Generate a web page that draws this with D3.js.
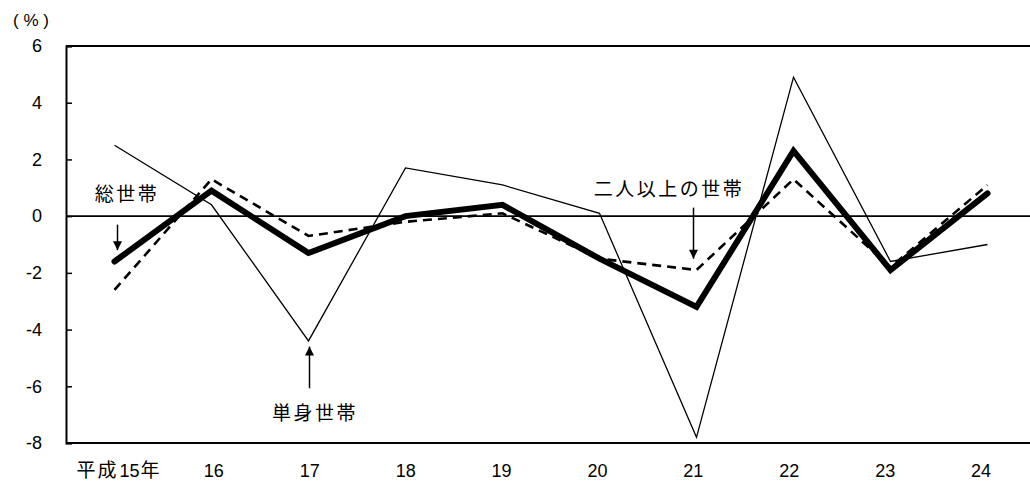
<!DOCTYPE html>
<html>
<head>
<meta charset="utf-8">
<script src="https://cdn.jsdelivr.net/npm/d3@7"></script>
<style>
  html, body { margin: 0; padding: 0; background: #fff; }
  svg { display: block; }
  text { font-family: "Liberation Sans", Arial, "Noto Sans CJK JP", sans-serif; fill: #000; }
  .jp { font-family: "Noto Sans CJK JP", "Liberation Sans", sans-serif; }
</style>
</head>
<body>
<svg id="chart" width="1030" height="486"></svg>
<script>
// 年次（平成）
const years = ["平成15年", "16", "17", "18", "19", "20", "21", "22", "23", "24"];
// 前年比（%）
const totalHouseholds = [-1.6, 0.9, -1.3, 0.0, 0.4, -1.5, -3.2, 2.3, -1.9, 0.8];   // 総世帯
const multiHouseholds = [-2.6, 1.3, -0.7, -0.2, 0.1, -1.5, -1.9, 1.3, -1.8, 1.1];  // 二人以上の世帯
const singleHouseholds = [2.5, 0.4, -4.4, 1.7, 1.1, 0.1, -7.8, 4.9, -1.6, -1.0];   // 単身世帯
const yTicks = [-8, -6, -4, -2, 0, 2, 4, 6];

const svg = d3.select("#chart");
const plotLeft = 66, plotRight = 1036, plotTop = 46, plotBottom = 443;

const x = d3.scaleBand().domain(years).range([plotLeft, plotRight]);
const xLabel = d3.scaleBand().domain(years).range([70, 1029]);
const y = d3.scaleLinear().domain([-8, 6]).range([plotBottom, plotTop]);
const cx = d => x(d) + x.bandwidth() / 2;

// 枠（上辺）
svg.append("line")
  .attr("x1", plotLeft).attr("x2", plotRight)
  .attr("y1", plotTop).attr("y2", plotTop)
  .attr("stroke", "#000").attr("stroke-width", 2);

// 縦軸
const yAxis = svg.append("g")
  .attr("transform", `translate(${plotLeft},0)`)
  .call(d3.axisLeft(y).tickValues(yTicks).tickSize(-6).tickPadding(24).tickFormat(d => String(d)));
yAxis.select(".domain").attr("stroke", "#000").attr("stroke-width", 2);
yAxis.selectAll(".tick line").attr("stroke", "#000").attr("stroke-width", 1.5);
yAxis.selectAll(".tick text").attr("font-size", 18)
  .attr("font-family", "'Liberation Sans', Arial, sans-serif");

// 横軸（下辺）
const xAxis = svg.append("g")
  .attr("transform", `translate(0,${plotBottom})`)
  .call(d3.axisBottom(xLabel).tickSize(0).tickPadding(21));
xAxis.select(".domain").attr("stroke", "#000").attr("stroke-width", 2)
  .attr("d", `M${plotLeft},0H${plotRight}`);
xAxis.selectAll(".tick text").attr("font-size", 18)
  .attr("font-family", "'Liberation Sans', Arial, 'Noto Sans CJK JP', sans-serif");

// 先頭の年次ラベルは元号部分を漢字の字形で組む
xAxis.selectAll(".tick text").filter(d => d === years[0]).each(function (d) {
  const t = d3.select(this).text(null);
  const m = d.match(/^(\D+)(\d+)(\D+)$/);
  t.append("tspan").attr("class", "jp").attr("font-size", 19).attr("letter-spacing", "2px").text(m[1]);
  t.append("tspan").attr("dx", 1).text(m[2]);
  t.append("tspan").attr("class", "jp").attr("font-size", 19).attr("dx", 1).text(m[3]);
});

// 単位
svg.append("text")
  .attr("x", 31).attr("y", 26)
  .attr("text-anchor", "middle")
  .attr("font-size", 17)
  .attr("xml:space", "preserve")
  .text("( % )");

// ゼロ線
svg.append("line")
  .attr("x1", plotLeft).attr("x2", plotRight)
  .attr("y1", y(0)).attr("y2", y(0))
  .attr("stroke", "#000").attr("stroke-width", 1.6);

const line = d3.line().x((d, i) => cx(years[i])).y(d => y(d));

// 単身世帯（細線）
svg.append("path").datum(singleHouseholds)
  .attr("d", line).attr("fill", "none")
  .attr("stroke", "#000").attr("stroke-width", 1.3)
  .attr("stroke-linejoin", "miter");

// 二人以上の世帯（破線）
svg.append("path").datum(multiHouseholds)
  .attr("d", line).attr("fill", "none")
  .attr("stroke", "#000").attr("stroke-width", 2.6)
  .attr("stroke-dasharray", "9,6")
  .attr("stroke-linejoin", "miter");

// 総世帯（太線）
svg.append("path").datum(totalHouseholds)
  .attr("d", line).attr("fill", "none")
  .attr("stroke", "#000").attr("stroke-width", 6)
  .attr("stroke-linejoin", "miter")
  .attr("stroke-linecap", "round");

// 系列名と矢印
const defs = svg.append("defs");
defs.append("marker")
  .attr("id", "arrowhead")
  .attr("viewBox", "0 0 10 10")
  .attr("refX", 10).attr("refY", 5)
  .attr("markerWidth", 10).attr("markerHeight", 9)
  .attr("markerUnits", "userSpaceOnUse")
  .attr("orient", "auto")
  .append("path").attr("d", "M0,0L10,5L0,10Z").attr("fill", "#000");

const notes = [
  { label: "総世帯", year: "平成15年", dx: 3, from: -0.3, to: -1.2, tx: 127, ty: 0.85 },
  { label: "二人以上の世帯", year: "21", dx: -3, from: 0.3, to: -1.5, tx: 669, ty: 1.0 },
  { label: "単身世帯", year: "17", dx: 1, from: -6.07, to: -4.6, tx: 315, ty: -6.9 }
];

notes.forEach(n => {
  const ax = cx(n.year) + n.dx;
  svg.append("line")
    .attr("x1", ax).attr("x2", ax)
    .attr("y1", y(n.from)).attr("y2", y(n.to))
    .attr("stroke", "#000").attr("stroke-width", 1.5)
    .attr("marker-end", "url(#arrowhead)");
  svg.append("text")
    .attr("class", "jp")
    .attr("x", n.tx).attr("y", y(n.ty))
    .attr("text-anchor", "middle")
    .attr("dominant-baseline", "central")
    .attr("font-size", 19)
    .attr("letter-spacing", "2.5px")
    .text(n.label);
});
</script>
</body>
</html>
